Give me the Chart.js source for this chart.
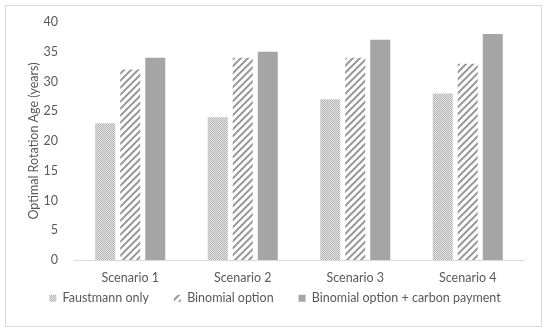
<!DOCTYPE html>
<html lang="en">
<head>
    <meta charset="UTF-8">
    <title>Optimal Rotation Age</title>
    <script src="https://cdn.jsdelivr.net/npm/chart.js"></script>
    <style>
        body { margin: 0; background: #fff; }
        .moldura {
            position: absolute; left: 5px; top: 5px;
            width: 537px; height: 322px;
            border: 1px solid #d9d9d9; box-sizing: border-box;
        }
    </style>
</head>
<body>
    <div class="moldura">
        <canvas id="grafico"></canvas>
    </div>
<script>
var cenarios = ['Scenario 1', 'Scenario 2', 'Scenario 3', 'Scenario 4']
var faustmann = [23, 24, 27, 28]
var binomial = [32, 34, 34, 33]
var binomialCarbono = [34, 35, 37, 38]
var nomesSeries = ['Faustmann only', 'Binomial option', 'Binomial option + carbon payment']

// padrao pontilhado (Faustmann)
function padraoPontos(){
  var c = document.createElement('canvas')
  c.width = 2; c.height = 2
  var g = c.getContext('2d')
  g.fillStyle = '#e4e4e4'
  g.fillRect(0, 0, 2, 2)
  g.fillStyle = '#b4b4b4'
  g.fillRect(0, 0, 1, 1)
  g.fillRect(1, 1, 1, 1)
  return g.createPattern(c, 'repeat')
}

// padrao listrado diagonal (Binomial)
function padraoListras(){
  var c = document.createElement('canvas')
  c.width = 7; c.height = 7
  var g = c.getContext('2d')
  g.fillStyle = '#ffffff'
  g.fillRect(0, 0, 7, 7)
  g.strokeStyle = '#9a9a9a'
  g.lineWidth = 2
  g.beginPath()
  g.moveTo(-1, 8); g.lineTo(8, -1)
  g.moveTo(-1, 1); g.lineTo(1, -1)
  g.moveTo(6, 8); g.lineTo(8, 6)
  g.stroke()
  return g.createPattern(c, 'repeat')
}

// a legenda fica logo abaixo dos rotulos do eixo x, como no original
const posicionarLegenda = {
  id: 'posicionarLegenda',
  afterLayout(chart){
    var leg = chart.legend
    leg.top = chart.scales.x.top + 7
    leg.bottom = leg.top + 50
    leg.height = 50
    leg.left += 10
    leg.right += 10
  }
}

const ctx = document.getElementById('grafico')
const fonte = "Lato, 'Liberation Sans', sans-serif"

new Chart(ctx, {
  type: 'bar',
  data: {
    labels: cenarios,
    datasets: [
      { label: nomesSeries[0], data: faustmann, backgroundColor: padraoPontos() },
      { label: nomesSeries[1], data: binomial, backgroundColor: padraoListras() },
      { label: nomesSeries[2], data: binomialCarbono, backgroundColor: '#a5a5a5' }
    ]
  },
  plugins: [posicionarLegenda],
  options: {
    responsive: true,
    maintainAspectRatio: false,
    animation: false,
    datasets: { bar: { barPercentage: 0.8, categoryPercentage: 0.667 } },
    layout: { padding: { left: 0, right: 17, top: 0, bottom: 1 } },
    plugins: {
      legend: {
        position: 'bottom',
        maxHeight: 30,
        labels: {
          color: '#595959',
          font: { family: fonte, size: 12.5 },
          boxWidth: 7, boxHeight: 7,
          padding: 25
        }
      },
      tooltip: { enabled: false }
    },
    scales: {
      x: {
        grid: { display: false, drawTicks: false },
        border: { color: '#d9d9d9' },
        ticks: { color: '#595959', font: { family: fonte, size: 12.5 }, padding: 10 }
      },
      y: {
        min: 0, max: 40,
        afterFit(escala){
          escala.width = 68
          escala.paddingTop = 16
        },
        ticks: { stepSize: 5, color: '#595959', font: { family: fonte, size: 12.5 }, padding: 16 },
        grid: { display: false, drawTicks: false },
        border: { display: false },
        title: {
          display: true, text: 'Optimal Rotation Age (years)',
          color: '#595959', font: { family: fonte, size: 12.5 }, padding: { top: 20, bottom: 3 }
        }
      }
    }
  }
})
</script>
</body>
</html>
